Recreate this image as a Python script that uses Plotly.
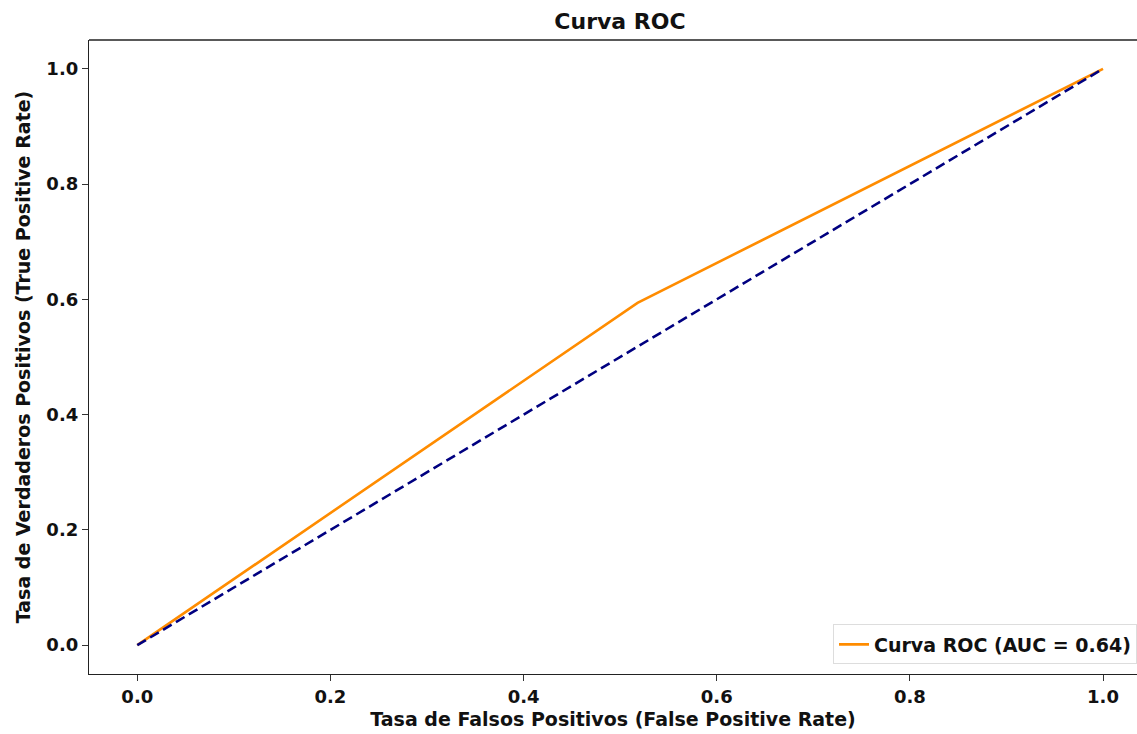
import plotly.graph_objects as go

fpr = [0.0, 0.518, 1.0]
tpr = [0.0, 0.594, 1.0]
diag_x = [0.0, 1.0]
diag_y = [0.0, 1.0]
tick_vals = [0.0, 0.2, 0.4, 0.6, 0.8, 1.0]
tick_text = ["0.0", "0.2", "0.4", "0.6", "0.8", "1.0"]
roc_label = "Curva ROC (AUC = 0.64)"

FONT = "DejaVu Sans"
fig = go.Figure()
fig.add_trace(go.Scatter(x=fpr, y=tpr, mode="lines", name=roc_label,
                         line=dict(color="darkorange", width=2.6)))
fig.add_trace(go.Scatter(x=diag_x, y=diag_y, mode="lines", showlegend=False,
                         line=dict(color="navy", width=2.6, dash="10px,5px")))

axis_common = dict(
    showgrid=False, zeroline=False, ticks="outside", ticklen=6, tickwidth=1.2,
    tickcolor="#333", showline=True, linecolor="#222", linewidth=1.3,
    tickvals=tick_vals, ticktext=tick_text,
    tickfont=dict(family=FONT, size=18, color="#111", weight="bold"),
)
fig.update_xaxes(range=[-0.05, 1.0352], mirror=False,
                 title=dict(text="Tasa de Falsos Positivos (False Positive Rate)",
                            font=dict(family=FONT, size=19, color="#111", weight="bold"),
                            standoff=6),
                 **axis_common)
fig.update_yaxes(range=[-0.05, 1.05], mirror=False,
                 title=dict(text="Tasa de Verdaderos Positivos (True Positive Rate)",
                            font=dict(family=FONT, size=19, color="#111", weight="bold"),
                            standoff=10),
                 **axis_common)

# top spine
fig.add_shape(type="line", xref="paper", yref="paper", x0=0, x1=1, y0=1, y1=1,
              line=dict(color="#222", width=1.3))

fig.update_layout(
    width=1137, height=734,
    margin=dict(l=89, r=0, t=40, b=60),
    plot_bgcolor="white", paper_bgcolor="white",
    title=dict(text="Curva ROC", x=620 / 1137, xanchor="center", y=1 - 21 / 734,
               yanchor="middle",
               font=dict(family=FONT, size=22, color="#111", weight="bold")),
    legend=dict(x=1.0, y=0.015, xanchor="right", yanchor="bottom",
                bgcolor="rgba(255,255,255,0.9)", bordercolor="#ddd", borderwidth=1,
                font=dict(family=FONT, size=19, color="#111", weight="bold")),
    showlegend=True,
)
fig.write_html("out.html", config={"displayModeBar": False},
               post_script="document.body.style.margin='0';document.body.style.overflow='hidden';")
